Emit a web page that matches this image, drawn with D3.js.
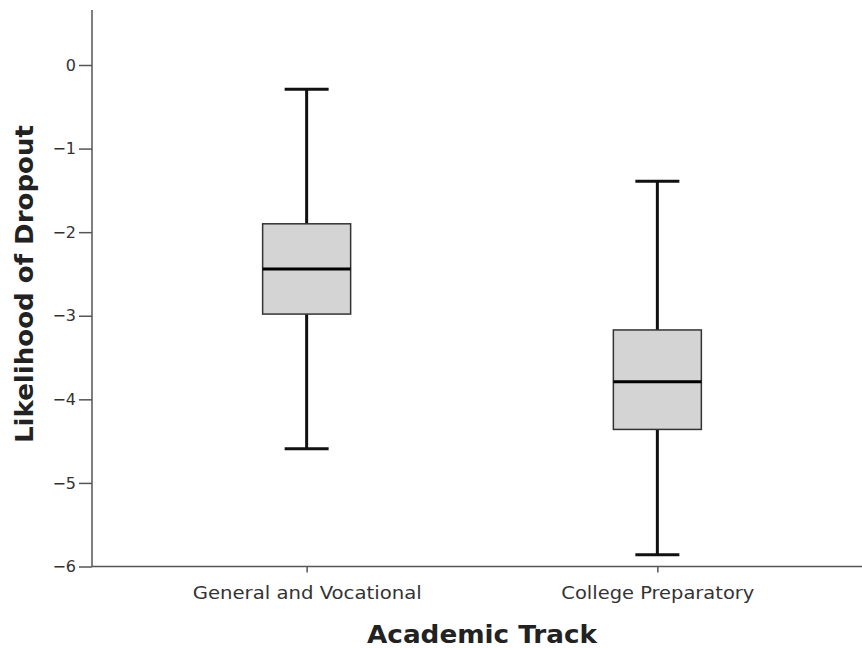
<!DOCTYPE html>
<html>
<head>
<meta charset="utf-8">
<script src="https://cdn.jsdelivr.net/npm/d3@7"></script>
<style>
  html, body { margin: 0; padding: 0; background: #fff; }
  svg { display: block; }
</style>
</head>
<body>
<svg id="chart" width="862" height="648"></svg>
<script>
// ---- data ----
const categories = ["General and Vocational", "College Preparatory"];
const whiskerLow  = [-4.59, -5.86];
const q1          = [-2.98, -4.36];
const medians     = [-2.44, -3.79];
const q3          = [-1.90, -3.17];
const whiskerHigh = [-0.29, -1.39];
const yTicks = [0, -1, -2, -3, -4, -5, -6];
const xTitle = "Academic Track";
const yTitle = "Likelihood of Dropout";

const svg = d3.select("#chart");
const W = 862, H = 648;
const mLeft = 92, mBottom = 566.5, mTop = 10;

const y = d3.scaleLinear().domain([-6, 0]).range([mBottom, 65]);
const x = d3.scalePoint().domain(categories).range([mLeft, 872]).padding(0.612);

const font = "'DejaVu Sans', 'Lucida Grande', sans-serif";

// y axis
const yAxis = svg.append("g").attr("transform", `translate(${mLeft},0)`)
  .call(d3.axisLeft(y).tickValues(yTicks).tickSize(13).tickPadding(3).tickSizeOuter(0)
        .tickFormat(d3.format("d")));
yAxis.select(".domain").remove();
yAxis.append("line").attr("x1", 0).attr("x2", 0).attr("y1", mTop).attr("y2", mBottom)
  .attr("stroke", "#555").attr("stroke-width", 1.5);
yAxis.selectAll(".tick line").attr("stroke", "#555").attr("stroke-width", 1.5);
yAxis.selectAll(".tick text").attr("font-family", font).attr("font-size", 16).attr("fill", "#333");

// x axis
const xAxis = svg.append("g").attr("transform", `translate(0,${mBottom})`)
  .call(d3.axisBottom(x).tickSize(6).tickPadding(14).tickSizeOuter(0));
xAxis.select(".domain").remove();
xAxis.append("line").attr("x1", mLeft).attr("x2", W).attr("y1", 0).attr("y2", 0)
  .attr("stroke", "#555").attr("stroke-width", 1.5);
xAxis.selectAll(".tick line").attr("stroke", "#555").attr("stroke-width", 1.5);
xAxis.selectAll(".tick text").attr("font-family", font).attr("font-size", 18).attr("fill", "#333")
  .attr("textLength", 229).attr("lengthAdjust", "spacingAndGlyphs");
xAxis.selectAll(".tick text").filter((d, i) => i === 1).attr("textLength", 193);

// boxes
const boxW = 88, capW = 44;
const g = svg.append("g");
categories.forEach((c, i) => {
  const cx = x(c);
  // whiskers
  g.append("line").attr("x1", cx).attr("x2", cx).attr("y1", y(whiskerHigh[i])).attr("y2", y(q3[i]))
    .attr("stroke", "#111").attr("stroke-width", 3);
  g.append("line").attr("x1", cx).attr("x2", cx).attr("y1", y(q1[i])).attr("y2", y(whiskerLow[i]))
    .attr("stroke", "#111").attr("stroke-width", 3);
  [whiskerHigh[i], whiskerLow[i]].forEach(v => {
    g.append("line").attr("x1", cx - capW / 2).attr("x2", cx + capW / 2).attr("y1", y(v)).attr("y2", y(v))
      .attr("stroke", "#111").attr("stroke-width", 3);
  });
  // box
  g.append("rect").attr("x", cx - boxW / 2).attr("width", boxW)
    .attr("y", y(q3[i])).attr("height", y(q1[i]) - y(q3[i]))
    .attr("fill", "#d4d4d4").attr("stroke", "#333").attr("stroke-width", 1.5);
  // median
  g.append("line").attr("x1", cx - boxW / 2).attr("x2", cx + boxW / 2)
    .attr("y1", y(medians[i])).attr("y2", y(medians[i]))
    .attr("stroke", "#000").attr("stroke-width", 3);
});

// titles
svg.append("text").attr("x", 482).attr("y", 643).attr("text-anchor", "middle")
  .attr("font-family", font).attr("font-size", 25).attr("font-weight", "bold").attr("fill", "#222")
  .attr("textLength", 230).attr("lengthAdjust", "spacingAndGlyphs").text(xTitle);
svg.append("text").attr("transform", "translate(33,284) rotate(-90)").attr("text-anchor", "middle")
  .attr("font-family", font).attr("font-size", 24).attr("font-weight", "bold").attr("fill", "#222")
  .attr("textLength", 318).attr("lengthAdjust", "spacingAndGlyphs").text(yTitle);
</script>
</body>
</html>
